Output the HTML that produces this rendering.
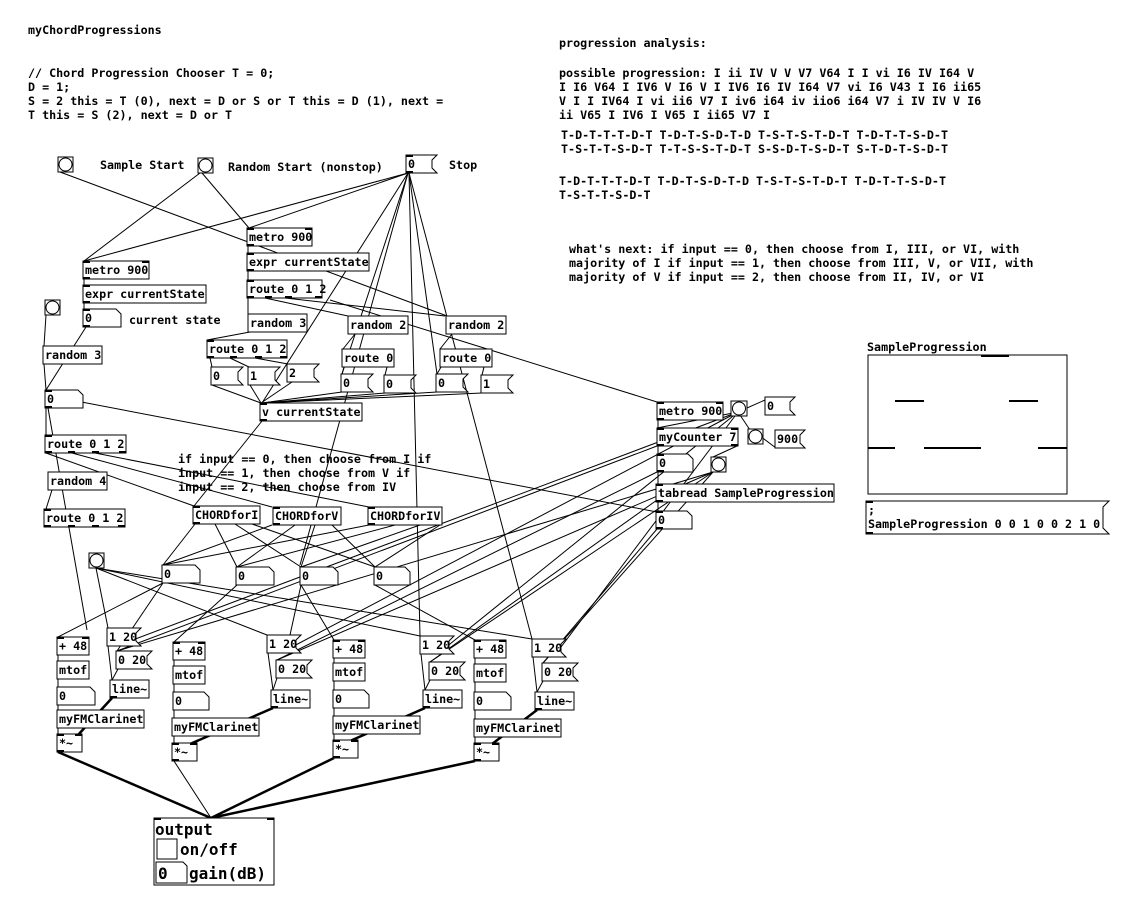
<!DOCTYPE html>
<html><head><meta charset="utf-8"><style>
html,body{margin:0;padding:0;background:#fff;}
svg{display:block;}
text{font-family:"DejaVu Sans Mono","Liberation Mono",monospace;font-weight:bold;font-size:11.7px;fill:#000;}
.b{fill:#fff;stroke:#000;stroke-width:1;}
.l{stroke:#000;stroke-width:1;fill:none;}
.t{stroke:#000;stroke-width:2.5;fill:none;}
.big{font-size:16px;}
</style></head><body>
<svg width="1129" height="922" viewBox="0 0 1129 922" xmlns="http://www.w3.org/2000/svg">
<!-- comments -->
<text x="28" y="34">myChordProgressions</text>
<text x="28" y="77">// Chord Progression Chooser T = 0;</text>
<text x="28" y="91">D = 1;</text>
<text x="28" y="105">S = 2 this = T (0), next = D or S or T this = D (1), next =</text>
<text x="28" y="119">T this = S (2), next = D or T</text>
<text x="559" y="47">progression analysis:</text>
<text x="559" y="77">possible progression: I ii IV V V V7 V64 I I vi I6 IV I64 V</text>
<text x="559" y="91">I I6 V64 I IV6 V I6 V I IV6 I6 IV I64 V7 vi I6 V43 I I6 ii65</text>
<text x="559" y="105">V I I IV64 I vi ii6 V7 I iv6 i64 iv iio6 i64 V7 i IV IV V I6</text>
<text x="559" y="119">ii V65 I IV6 I V65 I ii65 V7 I</text>
<text x="561" y="139">T-D-T-T-T-D-T T-D-T-S-D-T-D T-S-T-S-T-D-T T-D-T-T-S-D-T</text>
<text x="561" y="153">T-S-T-T-S-D-T T-T-S-S-T-D-T S-S-D-T-S-D-T S-T-D-T-S-D-T</text>
<text x="559" y="185">T-D-T-T-T-D-T T-D-T-S-D-T-D T-S-T-S-T-D-T T-D-T-T-S-D-T</text>
<text x="559" y="199">T-S-T-T-S-D-T</text>
<text x="569" y="253">what's next: if input == 0, then choose from I, III, or VI, with</text>
<text x="569" y="267">majority of I if input == 1, then choose from III, V, or VII, with</text>
<text x="569" y="281">majority of V if input == 2, then choose from II, IV, or VI</text>
<text x="100" y="169">Sample Start</text>
<text x="228" y="171">Random Start (nonstop)</text>
<text x="449" y="169">Stop</text>
<text x="129" y="324">current state</text>
<text x="178" y="463">if input == 0, then choose from I if</text>
<text x="178" y="477">input == 1, then choose from V if</text>
<text x="178" y="491">input == 2, then choose from IV</text>

<!-- connections (thin) -->
<g class="l">
<line x1="60" y1="172" x2="447" y2="316"/>
<line x1="330" y1="300" x2="657" y2="402"/>
<line x1="200" y1="173" x2="84" y2="261"/>
<line x1="202" y1="173" x2="249" y2="228"/>
<line x1="408" y1="173" x2="84" y2="261"/>
<line x1="408" y1="173" x2="249" y2="228"/>
<line x1="408" y1="173" x2="262" y2="403"/>
<line x1="408" y1="173" x2="300" y2="565"/>
<line x1="408" y1="173" x2="342" y2="374"/>
<line x1="409" y1="173" x2="420" y2="636"/>
<line x1="409" y1="173" x2="532" y2="639"/>
<line x1="409" y1="173" x2="437" y2="374"/>
<line x1="248" y1="246" x2="248" y2="253"/>
<line x1="248" y1="271" x2="248" y2="280"/>
<line x1="248" y1="298" x2="248" y2="314"/>
<line x1="265" y1="298" x2="348" y2="316"/>
<line x1="285" y1="298" x2="445" y2="316"/>
<line x1="250" y1="332" x2="207" y2="340"/>
<line x1="84" y1="279" x2="84" y2="285"/>
<line x1="84" y1="303" x2="84" y2="309"/>
<line x1="86" y1="327" x2="46" y2="390"/>
<line x1="46" y1="315" x2="44" y2="346"/>
<line x1="44" y1="364" x2="46" y2="390"/>
<line x1="46" y1="408" x2="46" y2="435"/>
<line x1="48" y1="408" x2="87" y2="630"/>
<line x1="50" y1="396" x2="657" y2="512"/>
<line x1="210" y1="358" x2="212" y2="367"/>
<line x1="230" y1="358" x2="249" y2="367"/>
<line x1="255" y1="358" x2="288" y2="364"/>
<line x1="212" y1="385" x2="261" y2="403"/>
<line x1="250" y1="385" x2="261" y2="403"/>
<line x1="292" y1="382" x2="261" y2="403"/>
<line x1="355" y1="334" x2="343" y2="349"/>
<line x1="452" y1="334" x2="440" y2="349"/>
<line x1="344" y1="367" x2="342" y2="374"/>
<line x1="387" y1="367" x2="385" y2="375"/>
<line x1="441" y1="367" x2="437" y2="374"/>
<line x1="484" y1="367" x2="482" y2="375"/>
<line x1="342" y1="392" x2="262" y2="403"/>
<line x1="385" y1="393" x2="262" y2="403"/>
<line x1="437" y1="392" x2="262" y2="403"/>
<line x1="482" y1="393" x2="262" y2="403"/>
<line x1="262" y1="421" x2="194" y2="506"/>
<line x1="46" y1="453" x2="194" y2="506"/>
<line x1="72" y1="453" x2="272" y2="507"/>
<line x1="95" y1="453" x2="369" y2="507"/>
<line x1="52" y1="490" x2="46" y2="509"/>
<line x1="195" y1="524" x2="163" y2="565"/>
<line x1="215" y1="524" x2="237" y2="567"/>
<line x1="235" y1="524" x2="301" y2="567"/>
<line x1="252" y1="524" x2="375" y2="567"/>
<line x1="272" y1="525" x2="163" y2="565"/>
<line x1="295" y1="525" x2="237" y2="567"/>
<line x1="315" y1="525" x2="301" y2="567"/>
<line x1="332" y1="525" x2="375" y2="567"/>
<line x1="369" y1="525" x2="163" y2="565"/>
<line x1="395" y1="525" x2="237" y2="567"/>
<line x1="420" y1="525" x2="301" y2="567"/>
<line x1="440" y1="525" x2="375" y2="567"/>
<line x1="96" y1="568" x2="108" y2="628"/>
<line x1="96" y1="568" x2="267" y2="635"/>
<line x1="96" y1="568" x2="420" y2="636"/>
<line x1="96" y1="568" x2="532" y2="639"/>
<line x1="163" y1="583" x2="58" y2="637"/>
<line x1="163" y1="583" x2="117" y2="651"/>
<line x1="237" y1="585" x2="174" y2="642"/>
<line x1="301" y1="585" x2="334" y2="640"/>
<line x1="301" y1="585" x2="290" y2="635"/>
<line x1="375" y1="585" x2="475" y2="640"/>
<line x1="657" y1="446" x2="117" y2="651"/>
<line x1="657" y1="472" x2="277" y2="660"/>
<line x1="657" y1="500" x2="430" y2="662"/>
<line x1="657" y1="529" x2="543" y2="663"/>
<line x1="738" y1="412" x2="657" y2="428"/>
<line x1="738" y1="412" x2="765" y2="400"/>
<line x1="738" y1="412" x2="750" y2="430"/>
<line x1="738" y1="412" x2="130" y2="641"/>
<line x1="738" y1="412" x2="290" y2="648"/>
<line x1="738" y1="412" x2="440" y2="652"/>
<line x1="738" y1="412" x2="555" y2="655"/>
<line x1="737" y1="446" x2="713" y2="457"/>
<line x1="760" y1="436" x2="776" y2="448"/>
<line x1="713" y1="472" x2="277" y2="660"/>
<line x1="713" y1="472" x2="430" y2="662"/>
<line x1="713" y1="472" x2="543" y2="663"/>
<line x1="713" y1="472" x2="117" y2="651"/>
<line x1="658" y1="420" x2="658" y2="428"/>
<line x1="658" y1="446" x2="658" y2="454"/>
<line x1="658" y1="472" x2="658" y2="484"/>
<line x1="658" y1="502" x2="658" y2="511"/>
<line x1="108" y1="646" x2="112" y2="680"/>
<line x1="118" y1="669" x2="112" y2="680"/>
<line x1="268" y1="653" x2="273" y2="690"/>
<line x1="277" y1="678" x2="273" y2="690"/>
<line x1="421" y1="654" x2="425" y2="690"/>
<line x1="430" y1="680" x2="425" y2="690"/>
<line x1="533" y1="657" x2="537" y2="692"/>
<line x1="543" y1="681" x2="537" y2="692"/>
<line x1="58" y1="655" x2="58" y2="661"/><line x1="58" y1="679" x2="58" y2="687"/><line x1="58" y1="705" x2="58" y2="710"/><line x1="58" y1="728" x2="58" y2="734"/>
<line x1="174" y1="660" x2="174" y2="666"/><line x1="174" y1="684" x2="174" y2="692"/><line x1="174" y1="710" x2="174" y2="718"/><line x1="174" y1="736" x2="174" y2="743"/>
<line x1="334" y1="658" x2="334" y2="663"/><line x1="334" y1="681" x2="334" y2="690"/><line x1="334" y1="708" x2="334" y2="716"/><line x1="334" y1="734" x2="334" y2="740"/>
<line x1="475" y1="658" x2="475" y2="664"/><line x1="475" y1="682" x2="475" y2="692"/><line x1="475" y1="710" x2="475" y2="719"/><line x1="475" y1="737" x2="475" y2="743"/>
<line x1="174" y1="761" x2="211" y2="818"/>
</g>
<g class="t">
<line x1="112" y1="698" x2="78" y2="735"/>
<line x1="273" y1="708" x2="190" y2="744"/>
<line x1="425" y1="708" x2="350" y2="741"/>
<line x1="537" y1="710" x2="492" y2="744"/>
<line x1="58" y1="752" x2="211" y2="818"/>
<line x1="334" y1="758" x2="211" y2="818"/>
<line x1="475" y1="761" x2="211" y2="818"/>
</g>

<!-- bangs -->
<g class="b">
<rect x="58" y="157" width="15" height="15"/><circle cx="65.5" cy="164.5" r="6.5"/>
<rect x="198" y="158" width="15" height="15"/><circle cx="205.5" cy="165.5" r="6.5"/>
<rect x="45" y="300" width="15" height="15"/><circle cx="52.5" cy="307.5" r="6.5"/>
<rect x="89" y="553" width="15" height="15"/><circle cx="96.5" cy="560.5" r="6.5"/>
<rect x="731" y="401" width="16" height="15"/><circle cx="739" cy="408.5" r="6.5"/>
<rect x="748" y="429" width="15" height="15"/><circle cx="755.5" cy="436.5" r="6.5"/>
<rect x="711" y="457" width="15" height="15"/><circle cx="718.5" cy="464.5" r="6.5"/>
</g>

<!-- objects: rect + text -->
<g class="b">
<rect x="247" y="228" width="65" height="18"/>
<rect x="247" y="253" width="122" height="18"/>
<rect x="247" y="280" width="75" height="18"/>
<rect x="83" y="261" width="66" height="18"/>
<rect x="83" y="285" width="123" height="18"/>
<rect x="43" y="346" width="59" height="18"/>
<rect x="248" y="314" width="59" height="18"/>
<rect x="348" y="316" width="60" height="18"/>
<rect x="446" y="316" width="60" height="18"/>
<rect x="207" y="340" width="80" height="18"/>
<rect x="342" y="349" width="52" height="18"/>
<rect x="440" y="349" width="52" height="18"/>
<rect x="260" y="403" width="102" height="18"/>
<rect x="45" y="435" width="81" height="18"/>
<rect x="48" y="472" width="59" height="18"/>
<rect x="44" y="509" width="81" height="18"/>
<rect x="193" y="506" width="67" height="18"/>
<rect x="273" y="507" width="68" height="18"/>
<rect x="368" y="507" width="74" height="18"/>
<rect x="57" y="637" width="32" height="18"/>
<rect x="57" y="661" width="32" height="18"/>
<rect x="57" y="710" width="87" height="18"/>
<rect x="57" y="734" width="25" height="18"/>
<rect x="110" y="680" width="39" height="18"/>
<rect x="173" y="642" width="32" height="18"/>
<rect x="173" y="666" width="32" height="18"/>
<rect x="172" y="718" width="87" height="18"/>
<rect x="172" y="743" width="25" height="18"/>
<rect x="271" y="690" width="39" height="18"/>
<rect x="333" y="640" width="32" height="18"/>
<rect x="333" y="663" width="32" height="18"/>
<rect x="333" y="716" width="87" height="18"/>
<rect x="333" y="740" width="25" height="18"/>
<rect x="423" y="690" width="39" height="18"/>
<rect x="474" y="640" width="32" height="18"/>
<rect x="474" y="664" width="32" height="18"/>
<rect x="474" y="719" width="87" height="18"/>
<rect x="474" y="743" width="25" height="18"/>
<rect x="535" y="692" width="39" height="18"/>
<rect x="657" y="402" width="66" height="18"/>
<rect x="657" y="428" width="81" height="18"/>
<rect x="656" y="484" width="178" height="18"/>
<rect x="154" y="818" width="120" height="67"/>
<rect x="868" y="355" width="199" height="139"/>
<!-- messages -->
<path d="M406 155H437L432 160V168L437 173H406Z"/>
<path d="M211 367H243L238 372V380L243 385H211Z"/>
<path d="M248 367H280L275 372V380L280 385H248Z"/>
<path d="M287 364H319L314 369V377L319 382H287Z"/>
<path d="M341 374H373L368 379V387L373 392H341Z"/>
<path d="M384 375H416L411 380V388L416 393H384Z"/>
<path d="M436 374H468L463 379V387L468 392H436Z"/>
<path d="M481 375H513L508 380V388L513 393H481Z"/>
<path d="M107 628H141L136 633V641L141 646H107Z"/>
<path d="M116 651H152L147 656V664L152 669H116Z"/>
<path d="M267 635H301L296 640V648L301 653H267Z"/>
<path d="M276 660H312L307 665V673L312 678H276Z"/>
<path d="M420 636H454L449 641V649L454 654H420Z"/>
<path d="M429 662H465L460 667V675L465 680H429Z"/>
<path d="M532 639H566L561 644V652L566 657H532Z"/>
<path d="M542 663H578L573 668V676L578 681H542Z"/>
<path d="M765 397H795L790 402V410L795 415H765Z"/>
<path d="M775 430H805L800 435V443L805 448H775Z"/>
<path d="M866 501H1109L1103 507V528L1109 534H866Z"/>
<!-- number boxes -->
<path d="M83 309H116L121 314V327H83Z"/>
<path d="M45 390H78L83 395V408H45Z"/>
<path d="M162 565H195L200 570V583H162Z"/>
<path d="M236 567H269L274 572V585H236Z"/>
<path d="M300 567H333L338 572V585H300Z"/>
<path d="M374 567H405L410 572V585H374Z"/>
<path d="M57 687H90L95 692V705H57Z"/>
<path d="M173 692H204L209 697V710H173Z"/>
<path d="M333 690H364L369 695V708H333Z"/>
<path d="M474 692H506L511 697V710H474Z"/>
<path d="M657 454H688L693 459V472H657Z"/>
<path d="M656 511H687L692 516V529H656Z"/>
<rect x="157" y="839" width="20" height="20"/>
<path d="M156 862H183L187 866V883H156Z"/>
</g>
<!-- array plot -->
<g class="t" style="stroke-width:2">
<line x1="895" y1="401" x2="924" y2="401"/><line x1="1009" y1="401" x2="1038" y2="401"/>
<line x1="868" y1="448" x2="895" y2="448"/><line x1="924" y1="448" x2="981" y2="448"/><line x1="1038" y1="448" x2="1067" y2="448"/>
<line x1="981" y1="356" x2="1009" y2="356"/>
</g>
<!-- inlets/outlets markers -->
<g fill="#000">
<rect x="247" y="228" width="7" height="2"/><rect x="247" y="244" width="7" height="2"/><rect x="305" y="228" width="7" height="2"/>
<rect x="247" y="253" width="7" height="2"/><rect x="247" y="269" width="7" height="2"/>
<rect x="247" y="280" width="7" height="2"/><rect x="247" y="296" width="7" height="2"/><rect x="265" y="296" width="7" height="2"/><rect x="285" y="296" width="7" height="2"/><rect x="315" y="296" width="7" height="2"/>
<rect x="83" y="261" width="7" height="2"/><rect x="83" y="277" width="7" height="2"/><rect x="142" y="261" width="7" height="2"/>
<rect x="83" y="285" width="7" height="2"/><rect x="83" y="301" width="7" height="2"/>
<rect x="83" y="309" width="7" height="2"/><rect x="83" y="325" width="7" height="2"/>
<rect x="45" y="390" width="7" height="2"/><rect x="45" y="406" width="7" height="2"/>
<rect x="657" y="454" width="7" height="2"/><rect x="657" y="470" width="7" height="2"/>
<rect x="656" y="511" width="7" height="2"/><rect x="656" y="527" width="7" height="2"/>
<rect x="406" y="155" width="7" height="2"/><rect x="406" y="171" width="7" height="2"/>
<rect x="657" y="402" width="7" height="2"/><rect x="657" y="418" width="7" height="2"/><rect x="716" y="402" width="7" height="2"/>
<rect x="657" y="428" width="7" height="2"/><rect x="657" y="444" width="7" height="2"/><rect x="731" y="444" width="7" height="2"/><rect x="731" y="428" width="7" height="2"/>
<rect x="656" y="484" width="7" height="2"/><rect x="656" y="500" width="7" height="2"/>
<rect x="866" y="501" width="7" height="2"/><rect x="866" y="532" width="7" height="2"/>
<rect x="154" y="818" width="7" height="2"/><rect x="267" y="818" width="7" height="2"/>
<rect x="57" y="750" width="7" height="2"/><rect x="172" y="759" width="7" height="2"/><rect x="333" y="756" width="7" height="2"/><rect x="474" y="759" width="7" height="2"/>
<rect x="57" y="734" width="7" height="2"/><rect x="75" y="734" width="7" height="2"/><rect x="172" y="743" width="7" height="2"/><rect x="190" y="743" width="7" height="2"/>
<rect x="333" y="740" width="7" height="2"/><rect x="351" y="740" width="7" height="2"/><rect x="474" y="743" width="7" height="2"/><rect x="492" y="743" width="7" height="2"/>
<rect x="110" y="696" width="7" height="2"/><rect x="271" y="706" width="7" height="2"/><rect x="423" y="706" width="7" height="2"/><rect x="535" y="708" width="7" height="2"/>
<rect x="57" y="637" width="7" height="2"/><rect x="82" y="637" width="7" height="2"/><rect x="173" y="642" width="7" height="2"/><rect x="198" y="642" width="7" height="2"/>
<rect x="333" y="640" width="7" height="2"/><rect x="358" y="640" width="7" height="2"/><rect x="474" y="640" width="7" height="2"/><rect x="499" y="640" width="7" height="2"/>
<rect x="193" y="506" width="7" height="2"/><rect x="193" y="522" width="7" height="2"/><rect x="273" y="507" width="7" height="2"/><rect x="273" y="523" width="7" height="2"/><rect x="368" y="507" width="7" height="2"/><rect x="368" y="523" width="7" height="2"/>
<rect x="45" y="435" width="7" height="2"/><rect x="45" y="451" width="7" height="2"/><rect x="68" y="451" width="7" height="2"/><rect x="92" y="451" width="7" height="2"/><rect x="119" y="451" width="7" height="2"/>
<rect x="44" y="509" width="7" height="2"/><rect x="44" y="525" width="7" height="2"/><rect x="68" y="525" width="7" height="2"/><rect x="92" y="525" width="7" height="2"/><rect x="118" y="525" width="7" height="2"/>
<rect x="260" y="403" width="7" height="2"/><rect x="260" y="419" width="7" height="2"/>
<rect x="207" y="340" width="7" height="2"/><rect x="207" y="356" width="7" height="2"/><rect x="230" y="356" width="7" height="2"/><rect x="255" y="356" width="7" height="2"/><rect x="280" y="356" width="7" height="2"/>
</g>

<!-- object texts -->
<text x="249" y="241">metro 900</text>
<text x="249" y="266">expr currentState</text>
<text x="249" y="293">route 0 1 2</text>
<text x="85" y="274">metro 900</text>
<text x="85" y="298">expr currentState</text>
<text x="85" y="322">0</text>
<text x="45" y="359">random 3</text>
<text x="250" y="327">random 3</text>
<text x="350" y="329">random 2</text>
<text x="448" y="329">random 2</text>
<text x="209" y="353">route 0 1 2</text>
<text x="344" y="362">route 0</text>
<text x="442" y="362">route 0</text>
<text x="213" y="380">0</text>
<text x="250" y="380">1</text>
<text x="289" y="377">2</text>
<text x="343" y="387">0</text>
<text x="386" y="388">0</text>
<text x="438" y="387">0</text>
<text x="483" y="388">1</text>
<text x="262" y="416">v currentState</text>
<text x="47" y="403">0</text>
<text x="47" y="448">route 0 1 2</text>
<text x="50" y="485">random 4</text>
<text x="46" y="522">route 0 1 2</text>
<text x="195" y="519">CHORDforI</text>
<text x="275" y="520">CHORDforV</text>
<text x="370" y="520">CHORDforIV</text>
<text x="164" y="578">0</text>
<text x="238" y="580">0</text>
<text x="302" y="580">0</text>
<text x="376" y="580">0</text>
<text x="59" y="650">+ 48</text><text x="59" y="674">mtof</text><text x="59" y="700">0</text><text x="59" y="723">myFMClarinet</text><text x="59" y="747">*~</text>
<text x="109" y="641">1 20</text><text x="118" y="664">0 20</text><text x="112" y="693">line~</text>
<text x="175" y="655">+ 48</text><text x="175" y="679">mtof</text><text x="175" y="705">0</text><text x="174" y="731">myFMClarinet</text><text x="174" y="756">*~</text>
<text x="269" y="648">1 20</text><text x="278" y="673">0 20</text><text x="273" y="703">line~</text>
<text x="335" y="653">+ 48</text><text x="335" y="676">mtof</text><text x="335" y="703">0</text><text x="335" y="729">myFMClarinet</text><text x="335" y="753">*~</text>
<text x="422" y="649">1 20</text><text x="431" y="675">0 20</text><text x="425" y="703">line~</text>
<text x="476" y="653">+ 48</text><text x="476" y="677">mtof</text><text x="476" y="705">0</text><text x="476" y="732">myFMClarinet</text><text x="476" y="756">*~</text>
<text x="534" y="652">1 20</text><text x="544" y="676">0 20</text><text x="537" y="705">line~</text>
<text x="408" y="168">0</text>
<text x="659" y="415">metro 900</text>
<text x="767" y="410">0</text>
<text x="659" y="441">myCounter 7</text>
<text x="777" y="443">900</text>
<text x="659" y="467">0</text>
<text x="658" y="497">tabread SampleProgression</text>
<text x="658" y="524">0</text>
<text x="867" y="351">SampleProgression</text>
<text x="868" y="514">;</text>
<text x="868" y="528">SampleProgression 0 0 1 0 0 2 1 0</text>
<text class="big" x="155" y="835">output</text>
<text class="big" x="180" y="855">on/off</text>
<text class="big" x="158" y="879">0</text>
<text class="big" x="189" y="879">gain(dB)</text>
</svg>
</body></html>
